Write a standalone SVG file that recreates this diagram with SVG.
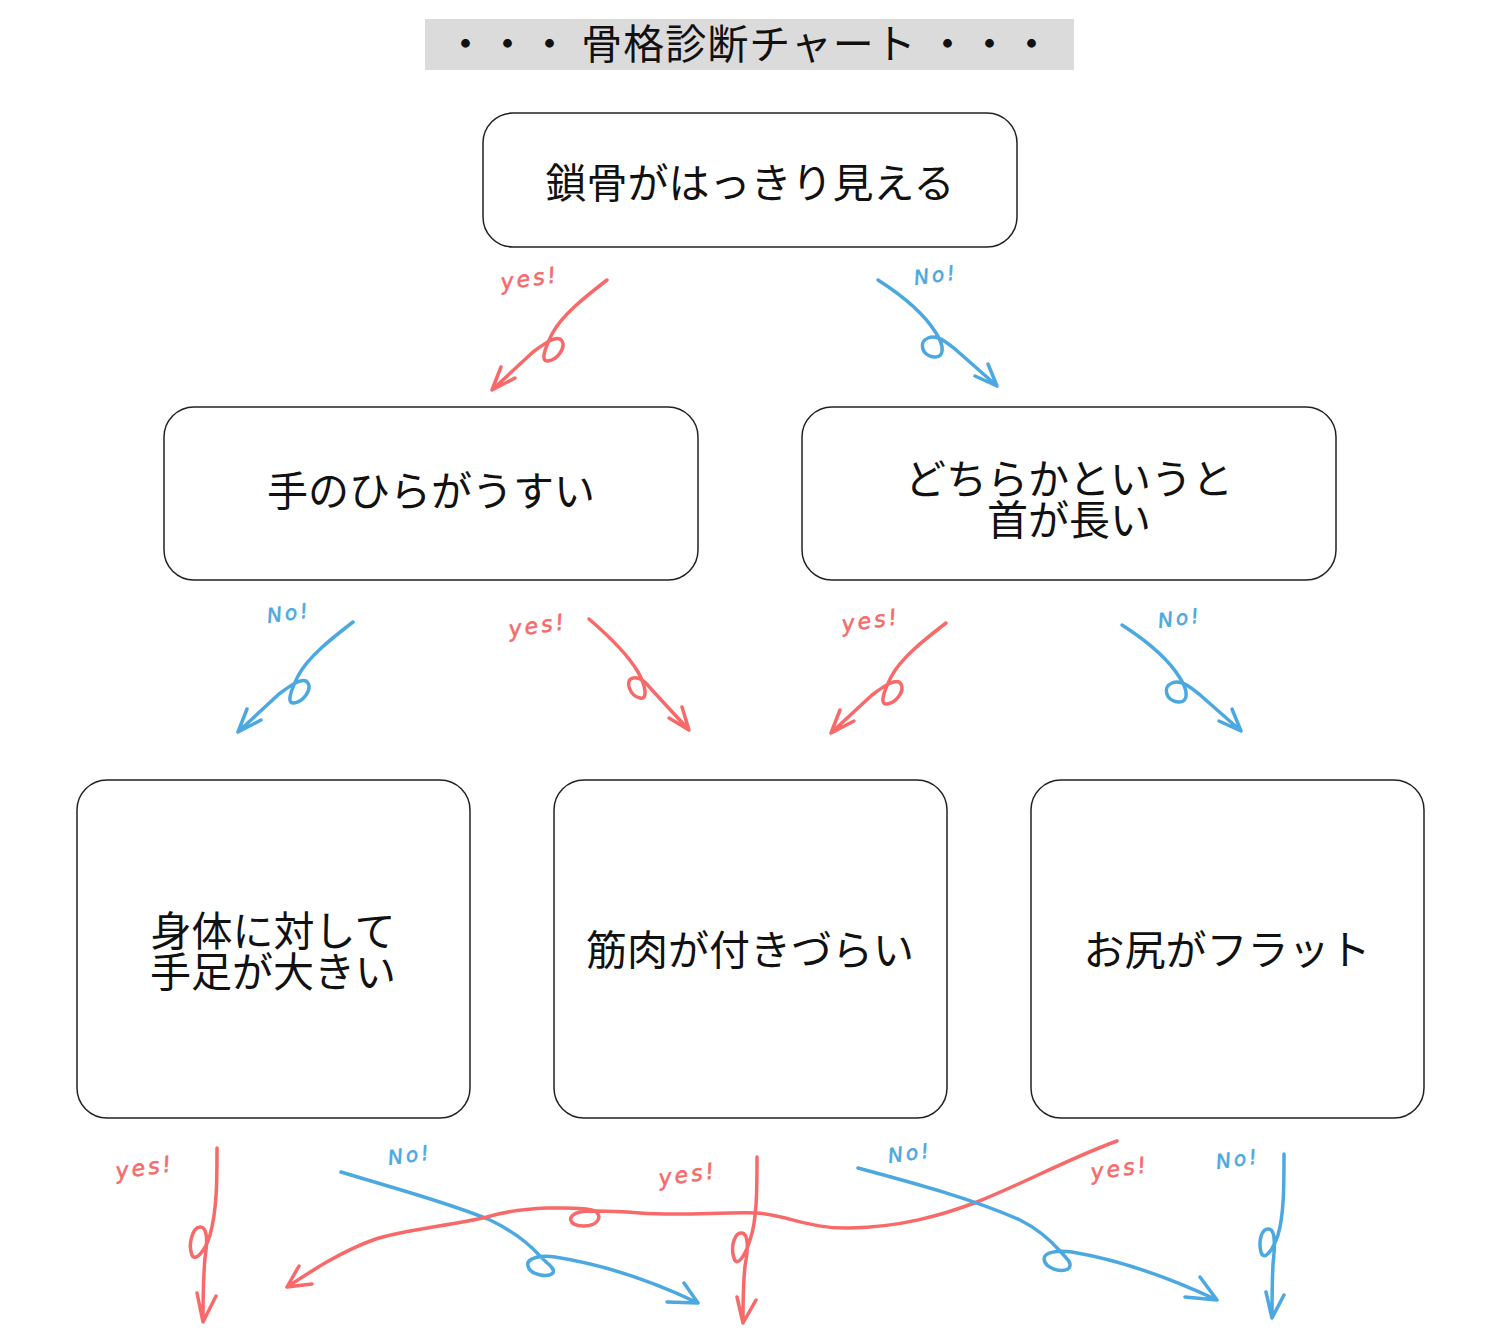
<svg xmlns="http://www.w3.org/2000/svg" width="1500" height="1337" viewBox="0 0 1500 1337">
<style>
.box{fill:#fff;stroke:#222;stroke-width:1.5}
.t{font-family:"Noto Sans CJK JP","Noto Sans",sans-serif;font-size:41px;fill:#111;text-anchor:middle}
.r{fill:none;stroke:#f86a6a;stroke-width:3.5;stroke-linecap:round;stroke-linejoin:round}
.b{fill:none;stroke:#4ba8e0;stroke-width:3.5;stroke-linecap:round;stroke-linejoin:round}
.ly{font-family:"DejaVu Sans",sans-serif;font-style:italic;font-size:22px;fill:#f86a6a;stroke:#f86a6a;stroke-width:0.6;letter-spacing:3px;text-anchor:middle}
.ln{font-family:"DejaVu Sans",sans-serif;font-style:italic;font-size:20px;fill:#4ba8e0;stroke:#4ba8e0;stroke-width:0.6;letter-spacing:3px;text-anchor:middle}
</style>
<rect width="1500" height="1337" fill="#fff"/>
<g id="title">
<rect x="425" y="19" width="649" height="51" fill="#dcdbdc"/>
<text class="t" x="749" y="59" style="letter-spacing:1px">・・・ 骨格診断チャート ・・・</text>
</g>
<g id="n1"><rect class="box" x="483" y="113" width="534" height="134" rx="30"/><text class="t" x="750" y="198">鎖骨がはっきり見える</text></g>
<g id="n2"><rect class="box" x="164" y="407" width="534" height="173" rx="30"/><text class="t" x="431" y="506">手のひらがうすい</text></g>
<g id="n3"><rect class="box" x="802" y="407" width="534" height="173" rx="30"/><text class="t" x="1069" y="494">どちらかというと</text><text class="t" x="1069" y="535">首が長い</text></g>
<g id="n4"><rect class="box" x="77" y="780" width="393" height="338" rx="30"/><text class="t" x="273" y="946">身体に対して</text><text class="t" x="273" y="987">手足が大きい</text></g>
<g id="n5"><rect class="box" x="554" y="780" width="393" height="338" rx="30"/><text class="t" x="750" y="965">筋肉が付きづらい</text></g>
<g id="n6"><rect class="box" x="1031" y="780" width="393" height="338" rx="30"/><text class="t" x="1227" y="965">お尻がフラット</text></g>
<g id="connectors">
<path class="r" d="M607,280 C585,297 562,315 552,334 C545,348 540,362 548,361 C557,360 566,348 562,341 C558,334 545,343 533,352 L492,390 M501,367 L492,390 L515,378"/>
<text class="ly" x="530" y="286" transform="rotate(-8 530 280)">yes!</text>
<path class="b" d="M878,280 C903,296 925,315 936,333 C945,347 944,358 934,357 C922,356 918,342 928,338 C937,334 946,342 955,349 L997,386 M975,376 L997,386 L988,364"/>
<text class="ln" x="936" y="282" transform="rotate(-8 936 276)">No!</text>
<path class="b" transform="translate(-254,342)" d="M607,280 C585,297 562,315 552,334 C545,348 540,362 548,361 C557,360 566,348 562,341 C558,334 545,343 533,352 L492,390 M501,367 L492,390 L515,378"/>
<text class="ln" x="289" y="620" transform="rotate(-8 289 614)">No!</text>
<path class="r" d="M589,619 C610,637 628,655 638,672 C646,686 648,700 640,698 C630,696 624,680 633,678 C641,676 647,684 652,690 L689,730 M669,718 L689,730 L682,707"/>
<text class="ly" x="538" y="633" transform="rotate(-8 538 627)">yes!</text>
<path class="r" transform="translate(339,343)" d="M607,280 C585,297 562,315 552,334 C545,348 540,362 548,361 C557,360 566,348 562,341 C558,334 545,343 533,352 L492,390 M501,367 L492,390 L515,378"/>
<text class="ly" x="871" y="628" transform="rotate(-8 871 622)">yes!</text>
<path class="b" transform="translate(244,345)" d="M878,280 C903,296 925,315 936,333 C945,347 944,358 934,357 C922,356 918,342 928,338 C937,334 946,342 955,349 L997,386 M975,376 L997,386 L988,364"/>
<text class="ln" x="1180" y="625" transform="rotate(-8 1180 619)">No!</text>
<path class="r" d="M217,1148 C217,1180 217,1210 210,1235 C205,1252 195,1262 192,1255 C188,1245 192,1228 200,1227 C207,1226 208,1240 205,1258 C203,1280 203,1300 203,1322 M197,1293 L203,1322 L216,1296"/>
<text class="ly" x="145" y="1175" transform="rotate(-8 145 1169)">yes!</text>
<path class="b" d="M341,1172 C390,1187 450,1203 490,1220 C515,1232 530,1245 540,1256 C545,1262 556,1268 553,1273 C548,1278 530,1275 528,1266 C526,1258 540,1255 555,1257 C600,1264 650,1280 698,1303 M667,1302 L698,1303 L684,1283"/>
<text class="ln" x="410" y="1162" transform="rotate(-8 410 1156)">No!</text>
<path class="r" d="M1117,1141 C1070,1158 1020,1185 977,1202 C940,1216 900,1227 850,1228 C810,1229 790,1216 757,1213 C720,1212 680,1216 640,1213 C612,1211 592,1210 580,1212 C566,1215 568,1226 584,1226 C598,1226 603,1216 595,1211 C587,1207 565,1208 547,1208 C520,1209 500,1213 487,1217 C450,1226 400,1230 373,1240 C340,1252 310,1272 287,1287 M299,1266 L287,1287 L312,1284"/>
<text class="ly" x="1120" y="1176" transform="rotate(-8 1120 1170)">yes!</text>
<path class="r" d="M757,1157 C757,1190 757,1220 750,1240 C745,1256 737,1268 734,1258 C730,1246 735,1232 742,1233 C749,1234 748,1250 745,1266 C743,1285 743,1305 743,1323 M737,1297 L743,1323 L756,1300"/>
<text class="ly" x="688" y="1182" transform="rotate(-8 688 1176)">yes!</text>
<path class="b" d="M858,1168 C910,1182 970,1198 1020,1220 C1040,1230 1052,1242 1060,1251 C1066,1258 1074,1264 1068,1269 C1060,1273 1045,1268 1044,1259 C1044,1252 1058,1250 1072,1252 C1120,1260 1170,1278 1217,1300 M1185,1297 L1217,1300 L1200,1277"/>
<text class="ln" x="910" y="1160" transform="rotate(-8 910 1154)">No!</text>
<path class="b" d="M1284,1154 C1284,1185 1284,1215 1278,1235 C1273,1250 1264,1262 1261,1252 C1258,1240 1262,1228 1269,1229 C1276,1230 1275,1246 1273,1264 C1272,1285 1272,1300 1272,1318 M1266,1292 L1272,1318 L1284,1295"/>
<text class="ln" x="1238" y="1166" transform="rotate(-8 1238 1160)">No!</text>
</g>
</svg>
